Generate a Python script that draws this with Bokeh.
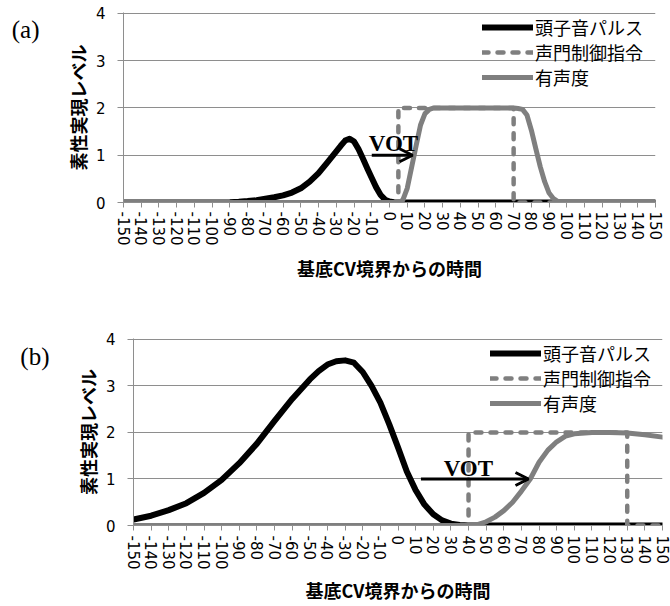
from bokeh.plotting import figure
from bokeh.models import (Range1d, FixedTicker, Legend, LegendItem, Arrow, OpenHead, Label,
                          LinearAxis)
from bokeh.layouts import column, row
from bokeh.embed import file_html
from bokeh.resources import INLINE

# ---------------- data ----------------
X_TICKS = list(range(-150, 151, 10))
X_TICK_LABELS = [str(t) for t in X_TICKS]
Y_TICKS = [0, 1, 2, 3, 4]
GRID_Y = [1, 2, 3, 4]
SERIES_NAMES = ["頭子音パルス", "声門制御指令", "有声度"]
X_TITLE = "基底CV境界からの時間"
Y_TITLE = "素性実現レベル"
PANEL_NAMES = ["(a)", "(b)"]
VOT_TEXT = "VOT"

# panel (a)
a_pulse_x = [-150, -95, -90, -85, -80, -75, -70, -65, -60, -55, -50, -45, -40, -35, -30,
             -27.5, -25, -22.5, -20, -17.5, -15, -12.5, -10, -7.5, -5, -2.5, 0, 2.5, 5, 150]
a_pulse_y = [0, 0, 0.005, 0.015, 0.03, 0.05, 0.08, 0.11, 0.15, 0.21, 0.30, 0.44, 0.62, 0.85, 1.08,
             1.20, 1.31, 1.35, 1.29, 1.13, 0.93, 0.72, 0.52, 0.32, 0.16, 0.06, 0.02, 0.005, 0, 0]
a_cmd_x = [-150, 5, 5, 70, 70, 150]
a_cmd_y = [0, 0, 2, 2, 0, 0]
a_voice_x = [-150, 5, 7.5, 10, 12.5, 15, 17.5, 20, 22.5, 25, 70, 72.5, 75, 77.5, 80,
             82.5, 85, 87.5, 90, 92.5, 95, 97.5, 150]
a_voice_y = [0, 0, 0.05, 0.30, 0.75, 1.20, 1.64, 1.88, 1.97, 2.0, 2.0, 1.99, 1.97, 1.85, 1.53,
             1.14, 0.76, 0.44, 0.20, 0.08, 0.02, 0, 0]
a_vot_arrow = [-10, 13, 1.0]        # x start, x end, y
a_vot_label = [-11.7, 1.24]         # x, y (baseline)
a_panel_label_y = 3.67

# panel (b)
b_pulse_x = [-150, -140, -130, -120, -110, -100, -90, -80, -70, -60, -50, -45, -40, -35, -30,
             -25, -20, -15, -10, -5, 0, 5, 10, 15, 20, 25, 30, 35, 40, 150]
b_pulse_y = [0.13, 0.21, 0.33, 0.48, 0.70, 0.98, 1.34, 1.76, 2.25, 2.72, 3.14, 3.32, 3.46, 3.53, 3.55,
             3.50, 3.30, 3.00, 2.64, 2.18, 1.68, 1.16, 0.76, 0.45, 0.24, 0.11, 0.04, 0.01, 0, 0]
b_cmd_x = [-150, 40, 40, 130, 130, 150]
b_cmd_y = [0, 0, 2, 2, 0, 0]
b_voice_x = [-150, 40, 45, 50, 55, 60, 65, 70, 75, 80, 85, 90, 95, 100, 110, 120, 130, 140, 150]
b_voice_y = [0, 0, 0.02, 0.08, 0.18, 0.32, 0.50, 0.74, 1.00, 1.36, 1.62, 1.80, 1.92, 1.97, 2.0,
             2.0, 1.99, 1.95, 1.90]
b_vot_arrow = [13, 74, 1.0]
b_vot_label = [25.9, 1.23]
b_panel_label_y = 3.63

LINE_GRAY = "#7f7f7f"
GRID_GRAY = "#8e8e8e"
SANS = "DejaVu Sans"
CJK = "Noto Sans CJK JP"
SERIF = "Liberation Serif"


def make_panel(height, border_left, border_right, border_top, border_bottom,
               pulse, cmd, voice, vot_arrow, vot_label, panel_name, panel_y,
               tag_size, tag_standoff, legend_x, legend_ys, tick_standoff, title_standoff):
    p = figure(width=670, height=height, x_range=Range1d(-150, 150), y_range=Range1d(0, 4.02),
               output_backend="svg", toolbar_location=None, title=None,
               min_border_left=border_left, min_border_right=border_right,
               min_border_top=border_top, min_border_bottom=border_bottom)
    p.outline_line_color = None
    p.background_fill_color = "white"

    p.xgrid.grid_line_color = None
    p.ygrid.ticker = FixedTicker(ticks=GRID_Y)
    p.ygrid.grid_line_color = GRID_GRAY
    p.ygrid.grid_line_width = 1

    xa = p.xaxis[0]
    xa.ticker = FixedTicker(ticks=X_TICKS)
    xa.major_label_overrides = dict(zip(X_TICKS, X_TICK_LABELS))
    xa.major_label_orientation = "vertical"
    xa.major_tick_in = 0
    xa.major_tick_out = 5
    xa.minor_tick_line_color = None
    xa.axis_line_color = GRID_GRAY
    xa.major_tick_line_color = GRID_GRAY
    xa.major_label_text_font = SANS
    xa.major_label_text_font_size = "15px"
    xa.major_label_text_color = "black"
    xa.major_label_standoff = tick_standoff
    xa.axis_label = X_TITLE
    xa.axis_label_text_font = CJK
    xa.axis_label_text_font_style = "bold"
    xa.axis_label_text_font_size = "18px"
    xa.axis_label_text_color = "black"
    xa.axis_label_standoff = title_standoff

    ya = p.yaxis[0]
    ya.ticker = FixedTicker(ticks=Y_TICKS)
    ya.major_tick_in = 0
    ya.major_tick_out = 6
    ya.minor_tick_line_color = None
    ya.axis_line_color = GRID_GRAY
    ya.major_tick_line_color = GRID_GRAY
    ya.major_label_text_font = SANS
    ya.major_label_text_font_size = "15px"
    ya.major_label_text_color = "black"
    ya.major_label_standoff = 12
    ya.axis_label = Y_TITLE
    ya.axis_label_text_font = CJK
    ya.axis_label_text_font_style = "bold"
    ya.axis_label_text_font_size = "18px"
    ya.axis_label_text_color = "black"
    ya.axis_label_standoff = 2

    # panel tag "(a)" / "(b)" drawn as the single label of an extra, line-less left axis
    tag = LinearAxis(ticker=FixedTicker(ticks=[panel_y]),
                     major_label_overrides={panel_y: panel_name},
                     axis_line_color=None, major_tick_line_color=None,
                     minor_tick_line_color=None, major_tick_in=0, major_tick_out=0,
                     major_label_text_font=SERIF, major_label_text_font_size=tag_size,
                     major_label_text_color="black", major_label_standoff=tag_standoff)
    p.add_layout(tag, "left")

    r1 = p.line(pulse[0], pulse[1], line_color="black", line_width=6,
                line_cap="round", line_join="round")
    r2 = p.line(cmd[0], cmd[1], line_color=LINE_GRAY, line_width=4.5,
                line_dash="6 9", line_cap="round", line_join="round")
    r3 = p.line(voice[0], voice[1], line_color=LINE_GRAY, line_width=5,
                line_cap="round", line_join="round")

    for name, rend, ly in zip(SERIES_NAMES, [r1, r2, r3], legend_ys):
        lg = Legend(items=[LegendItem(label=name, renderers=[rend])], location=(legend_x, ly))
        lg.glyph_width = 51
        lg.glyph_height = 28
        lg.label_height = 28
        lg.label_standoff = 2
        lg.spacing = 0
        lg.padding = 0
        lg.margin = 0
        lg.border_line_color = None
        lg.background_fill_alpha = 0
        lg.label_text_font = CJK
        lg.label_text_font_size = "18px"
        lg.label_text_color = "black"
        p.add_layout(lg)

    p.add_layout(Arrow(end=OpenHead(size=13, line_width=3, line_color="black"),
                       x_start=vot_arrow[0], y_start=vot_arrow[2],
                       x_end=vot_arrow[1], y_end=vot_arrow[2],
                       line_width=3, line_color="black"))
    p.add_layout(Label(x=vot_label[0], y=vot_label[1], text=VOT_TEXT,
                       text_font=SERIF, text_font_style="bold", text_font_size="23px",
                       text_baseline="alphabetic", text_align="left", text_color="black"))
    return p


pa = make_panel(290, 123, 15, 12, 88,
                (a_pulse_x, a_pulse_y), (a_cmd_x, a_cmd_y), (a_voice_x, a_voice_y),
                a_vot_arrow, a_vot_label, PANEL_NAMES[0], a_panel_label_y, "25px", 22,
                359, [161, 136, 111], 4, 6)
pb = make_panel(316, 133, 8, 48, 81,
                (b_pulse_x, b_pulse_y), (b_cmd_x, b_cmd_y), (b_voice_x, b_voice_y),
                b_vot_arrow, b_vot_label, PANEL_NAMES[1], b_panel_label_y, "25px", 22,
                357, [158.4, 133.4, 108.4], 5, 4)

# each figure wrapped on its own so that the column does not align their frames
layout = column(row(pa), row(pb))
open("out.html", "w").write(file_html(layout, INLINE))
